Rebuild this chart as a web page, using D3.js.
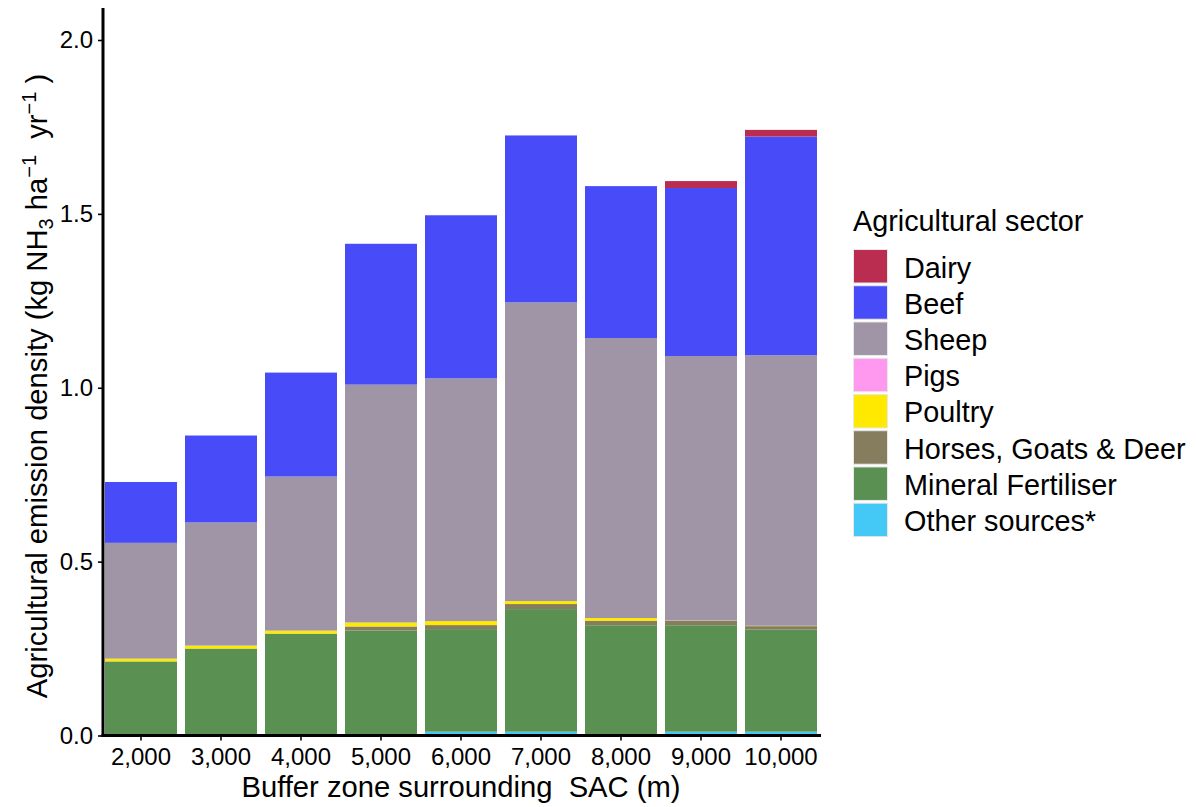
<!DOCTYPE html>
<html>
<head>
<meta charset="utf-8">
<script src="https://cdn.jsdelivr.net/npm/d3@7"></script>
<style>
  html, body { margin: 0; padding: 0; background: #ffffff; }
  svg text { font-family: "Liberation Sans", Arial, sans-serif; fill: #000000; }
</style>
</head>
<body>
<svg id="chart" width="1197" height="807"></svg>
<script>
// Buffer zones (m) around the SAC
const categories = ["2,000", "3,000", "4,000", "5,000", "6,000", "7,000", "8,000", "9,000", "10,000"];

// Emission density per sector, kg NH3 ha-1 yr-1 (stacked bottom to top)
const otherSources      = [0.000, 0.000, 0.000, 0.003, 0.011, 0.011, 0.004, 0.011, 0.011];
const mineralFertiliser = [0.213, 0.250, 0.293, 0.299, 0.295, 0.3525, 0.313, 0.306, 0.294];
const horsesGoatsDeer   = [0.000, 0.000, 0.000, 0.0115, 0.0115, 0.0145, 0.013, 0.0123, 0.0095];
const poultry           = [0.008, 0.0086, 0.0086, 0.0115, 0.0115, 0.0085, 0.0078, 0.001, 0.001];
const pigs              = [0.000, 0.000, 0.000, 0.000, 0.000, 0.000, 0.000, 0.000, 0.000];
const sheep             = [0.333, 0.354, 0.443, 0.684, 0.698, 0.859, 0.805, 0.761, 0.778];
const beef              = [0.175, 0.250, 0.299, 0.405, 0.469, 0.480, 0.437, 0.483, 0.629];
const dairy             = [0.000, 0.000, 0.000, 0.000, 0.000, 0.000, 0.000, 0.020, 0.019];

// Legend order (top to bottom) and fill colours
const sectorNames  = ["Dairy", "Beef", "Sheep", "Pigs", "Poultry", "Horses, Goats & Deer", "Mineral Fertiliser", "Other sources*"];
const sectorColors = ["#BA2D50", "#474CF8", "#A095A6", "#FF99F0", "#FFE900", "#857D5E", "#5A9152", "#44C9F6"];
const sectorValues = [dairy, beef, sheep, pigs, poultry, horsesGoatsDeer, mineralFertiliser, otherSources];

const yTicks = [0, 0.5, 1.0, 1.5, 2.0];

const svg = d3.select("#chart");

const panel = { left: 101, right: 821, top: 8, bottom: 735.5 };

const x = d3.scaleBand()
  .domain(categories)
  .range([panel.left, panel.right])
  .paddingInner(0.1)
  .paddingOuter(0.05);

const y = d3.scaleLinear()
  .domain([0, 2.092])
  .range([panel.bottom, panel.top]);

// Build row objects for d3.stack
const keysBottomUp = sectorNames.slice().reverse();
const rows = categories.map((c, i) => {
  const r = { zone: c };
  sectorNames.forEach((name, k) => { r[name] = sectorValues[k][i]; });
  return r;
});
const color = d3.scaleOrdinal().domain(sectorNames).range(sectorColors);
const series = d3.stack().keys(keysBottomUp)(rows);

// Stacked bars
svg.append("g")
  .selectAll("g")
  .data(series)
  .join("g")
    .attr("fill", d => color(d.key))
  .selectAll("rect")
  .data(d => d)
  .join("rect")
    .attr("x", d => x(d.data.zone))
    .attr("width", x.bandwidth())
    .attr("y", d => y(d[1]))
    .attr("height", d => Math.max(0, y(d[0]) - y(d[1])));

// Y axis
const yAxis = svg.append("g")
  .attr("transform", `translate(103,0)`)
  .call(d3.axisLeft(y).tickValues(yTicks).tickFormat(d3.format(".1f")).tickSize(5).tickSizeOuter(0).tickPadding(5));
yAxis.select(".domain").attr("stroke", "#000").attr("stroke-width", 3)
  .attr("d", `M0,${panel.top}V${panel.bottom + 1.5}`);
yAxis.selectAll(".tick line").attr("stroke", "#000").attr("stroke-width", 1.6);
yAxis.selectAll(".tick text").attr("font-size", 24).attr("fill", "#000");

// X axis
const xAxis = svg.append("g")
  .attr("transform", `translate(0,${panel.bottom})`)
  .call(d3.axisBottom(x).tickSize(5).tickSizeOuter(0).tickPadding(7));
xAxis.select(".domain").attr("stroke", "#000").attr("stroke-width", 3)
  .attr("d", `M${panel.left + 0.5},0H${panel.right}`);
xAxis.selectAll(".tick line").attr("stroke", "#000").attr("stroke-width", 1.6);
xAxis.selectAll(".tick text").attr("font-size", 24).attr("fill", "#000");
svg.selectAll(".tick text").style("font-family", "'Liberation Sans', Arial, sans-serif");

// X axis title
svg.append("text")
  .attr("x", (panel.left + panel.right) / 2)
  .attr("y", 797)
  .attr("text-anchor", "middle")
  .attr("font-size", 29.2)
  .style("white-space", "pre")
  .text("Buffer zone surrounding  SAC (m)");

// Y axis title with sub/superscripts
const yTitle = svg.append("text")
  .attr("transform", `translate(47,${386}) rotate(-90)`)
  .attr("text-anchor", "middle")
  .attr("font-size", 29.2)
  .style("white-space", "pre");
yTitle.append("tspan").text("Agricultural emission density (kg NH");
yTitle.append("tspan").attr("font-size", 20).attr("dy", "0.3em").text("3");
yTitle.append("tspan").attr("dy", "-0.2em").text(" ha");
yTitle.append("tspan").attr("font-size", 20).attr("dy", "-0.55em").text("−1");
yTitle.append("tspan").attr("dy", "0.38em").text("  yr");
yTitle.append("tspan").attr("font-size", 20).attr("dy", "-0.55em").text("−1");
yTitle.append("tspan").attr("dy", "0.38em").text(" )");

// Legend
const legend = svg.append("g").attr("transform", "translate(853,0)");
legend.append("text")
  .attr("x", 0).attr("y", 231)
  .attr("font-size", 28.8)
  .text("Agricultural sector");
const item = legend.selectAll("g.item")
  .data(sectorNames)
  .join("g")
    .attr("class", "item")
    .attr("transform", (d, i) => `translate(0,${249 + i * 36.24})`);
item.append("rect")
  .attr("x", 0.5).attr("y", 0.5)
  .attr("width", 34).attr("height", 33.5)
  .attr("fill", d => color(d))
  .attr("stroke", "#e8e8e8")
  .attr("stroke-width", 1);
item.append("text")
  .attr("x", 51).attr("y", 28.5)
  .attr("font-size", 28.8)
  .text(d => d);
</script>
</body>
</html>
